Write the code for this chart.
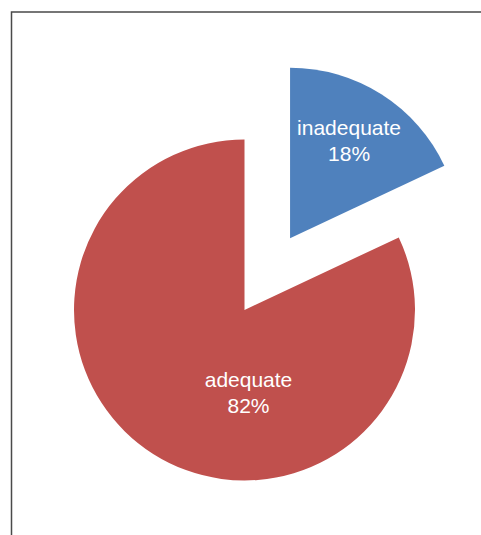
<!DOCTYPE html>
<html>
<head>
<meta charset="utf-8">
<script src="https://cdn.jsdelivr.net/npm/d3@7"></script>
<style>
  body { margin: 0; background: #fff; }
  svg { display: block; }
</style>
</head>
<body>
<div id="chart"></div>
<script>
// chart values
const categories = ['inadequate', 'adequate']
const values = [18, 82]
const colors = ['#4F81BD', '#C0504D']

const width = 481
const height = 535

const svg = d3
  .select('#chart')
  .append('svg')
  .attr('width', width)
  .attr('height', height)

// chart area frame (runs off the right and bottom edges)
svg
  .append('rect')
  .attr('x', 11.5)
  .attr('y', 12)
  .attr('width', 520)
  .attr('height', 560)
  .attr('fill', '#fff')
  .attr('stroke', '#4a4a4a')
  .attr('stroke-width', 1.5)

const cx = 244.5
const cy = 310
const radius = 170.5
const explode = 85

const pie = d3
  .pie()
  .sort(null)
  .value(d => d)

const arcs = pie(values)

const arc = d3
  .arc()
  .innerRadius(0)
  .outerRadius(radius)

const total = d3.sum(values)

const g = svg.append('g').attr('transform', 'translate(' + cx + ',' + cy + ')')

// first slice is pulled out along its mid angle
function offset(d, i) {
  if (i !== 0) return [0, 0]
  const mid = (d.startAngle + d.endAngle) / 2
  return [Math.sin(mid) * explode, -Math.cos(mid) * explode]
}

g.selectAll('.slice')
  .data(arcs)
  .enter()
  .append('path')
  .attr('class', 'slice')
  .attr('d', arc)
  .attr('fill', (d, i) => colors[i])
  .attr('transform', (d, i) => 'translate(' + offset(d, i) + ')')

// label positions relative to each slice apex
const labelPos = [[59, -103], [4, 77]]

const labels = g
  .selectAll('.label')
  .data(arcs)
  .enter()
  .append('text')
  .attr('class', 'label')
  .attr('transform', (d, i) => {
    const o = offset(d, i)
    return 'translate(' + (o[0] + labelPos[i][0]) + ',' + (o[1] + labelPos[i][1]) + ')'
  })
  .attr('text-anchor', 'middle')
  .attr('fill', '#fff')
  .style('font-family', 'Arial, "Liberation Sans", sans-serif')
  .style('font-size', '21px')

labels
  .append('tspan')
  .attr('x', 0)
  .attr('y', 0)
  .text((d, i) => categories[i])

labels
  .append('tspan')
  .attr('x', 0)
  .attr('y', 26)
  .text(d => Math.round((d.value / total) * 100) + '%')
</script>
</body>
</html>
